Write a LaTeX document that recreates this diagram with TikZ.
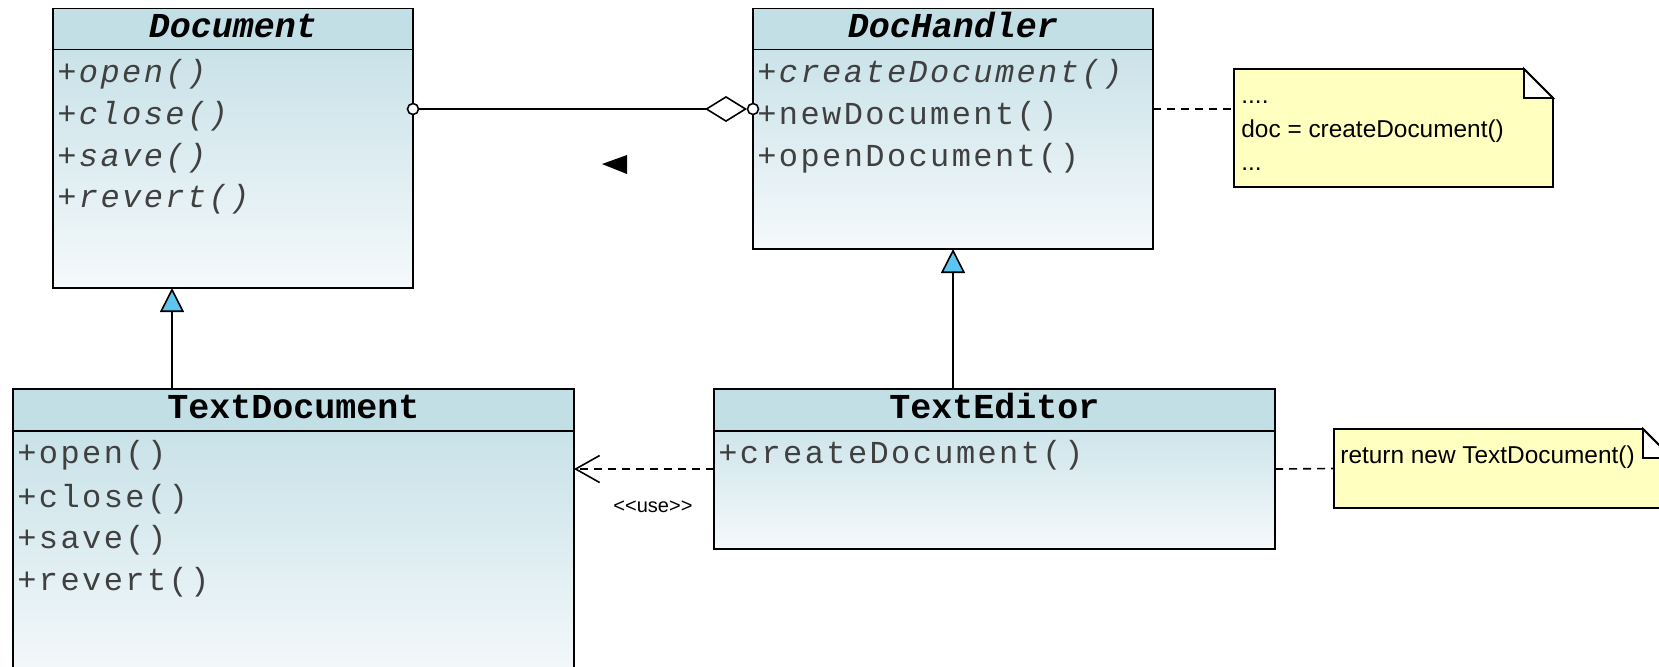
\documentclass[tikz,border=0pt]{standalone}
\usepackage{fontspec}
\usetikzlibrary{arrows.meta,calc}
\newfontfamily\umlfont{Liberation Mono}
\newfontfamily\opfont[LetterSpace=7.5]{Liberation Mono}
\newfontfamily\notefont{Liberation Sans}
\definecolor{headfill}{RGB}{195,223,230}
\definecolor{bodytop}{RGB}{193,222,229}
\definecolor{bodybot}{RGB}{245,249,251}
\definecolor{notefill}{RGB}{255,255,192}
\definecolor{genfill}{RGB}{94,196,240}
\begin{document}
\begin{tikzpicture}[x=0.5pt,y=-0.5pt,
  classbox/.style={draw=black, line width=0.9pt, anchor=north west,
    top color=bodytop, bottom color=bodybot, inner sep=0pt, outer sep=0pt},
  headbox/.style={draw=black, line width=0.9pt, anchor=north west,
    fill=headfill, inner sep=0pt, outer sep=0pt, minimum height=20.5pt},
  classname/.style={anchor=base, inner sep=0pt, text=black,
    font=\umlfont\fontsize{17.5pt}{20pt}\selectfont\bfseries},
  abstractname/.style={classname,
    font=\umlfont\fontsize{17.5pt}{20pt}\selectfont\bfseries\itshape},
  op/.style={anchor=base west, inner sep=0pt, text=black!75,
    font=\opfont\fontsize{16pt}{20pt}\selectfont},
  abstractop/.style={op, font=\opfont\fontsize{16pt}{20pt}\selectfont\itshape},
  notebox/.style={anchor=north west, inner sep=0pt, outer sep=0pt},
  notetext/.style={anchor=base west, inner sep=0pt, text=black,
    font=\notefont\fontsize{12.2pt}{14pt}\selectfont},
  noteshape/.style={draw=black, line width=0.9pt, fill=notefill, line join=miter},
  notelink/.style={draw=black, line width=0.8pt, dash pattern=on 4pt off 3pt},
  assoc/.style={draw=black, line width=0.8pt},
  endcircle/.style={circle, draw=black, fill=white, line width=0.8pt,
    inner sep=0pt, minimum size=5.5pt},
  gen/.style={draw=black, line width=0.8pt,
    -{Triangle[length=12pt, width=12pt, fill=genfill]}},
  dep/.style={draw=black, line width=0.8pt, dash pattern=on 4pt off 3pt,
    -{Straight Barb[length=12pt, width=13.5pt]}},
  stereo/.style={inner sep=0pt, text=black,
    font=\notefont\fontsize{10pt}{12pt}\selectfont}
]
\useasboundingbox (0,0) rectangle (1659,666);
\clip (0,0) rectangle (1659,666);

% ---- Document (abstract) ----
\node[classbox, minimum width=180pt, minimum height=139.75pt] (document) at (53,8.5) {};
\node[headbox, minimum width=180pt] (document-head) at (53,8.5) {};
\node[abstractname] at ($(document-head.north)+(0,28.5)$) {Document};
\node[abstractop] at ($(document-head.south west)+(4,33)$)  {+open()};
\node[abstractop] at ($(document-head.south west)+(4,75)$)  {+close()};
\node[abstractop] at ($(document-head.south west)+(4,117)$) {+save()};
\node[abstractop] at ($(document-head.south west)+(4,158)$) {+revert()};

% ---- DocHandler (abstract) ----
\node[classbox, minimum width=200pt, minimum height=120.25pt] (dochandler) at (753,8.5) {};
\node[headbox, minimum width=200pt] (dochandler-head) at (753,8.5) {};
\node[abstractname] at ($(dochandler-head.north)+(0,28.5)$) {DocHandler};
\node[abstractop] at ($(dochandler-head.south west)+(4,33)$) {+createDocument()};
\node[op] at ($(dochandler-head.south west)+(4,75)$)  {+newDocument()};
\node[op] at ($(dochandler-head.south west)+(4,117)$) {+openDocument()};

% ---- TextDocument ----
\node[classbox, minimum width=280.5pt, minimum height=145.5pt] (textdoc) at (13,389) {};
\node[headbox, minimum width=280.5pt, minimum height=21pt] (textdoc-head) at (13,389) {};
\node[classname] at ($(textdoc-head.north)+(0,29)$) {TextDocument};
\node[op] at ($(textdoc-head.south west)+(4,32)$)  {+open()};
\node[op] at ($(textdoc-head.south west)+(4,76)$)  {+close()};
\node[op] at ($(textdoc-head.south west)+(4,117)$) {+save()};
\node[op] at ($(textdoc-head.south west)+(4,159)$) {+revert()};

% ---- TextEditor ----
\node[classbox, minimum width=280.5pt, minimum height=80pt] (texteditor) at (714,389) {};
\node[headbox, minimum width=280.5pt, minimum height=21pt] (texteditor-head) at (714,389) {};
\node[classname] at ($(texteditor-head.north)+(0,29)$) {TextEditor};
\node[op] at ($(texteditor-head.south west)+(4,32)$) {+createDocument()};

% ---- notes ----
\node[notebox, minimum width=159.5pt, minimum height=59pt] (note1) at (1234,69) {};
\path[noteshape] (note1.north west) -- ($(note1.north east)+(-29,0)$)
  -- ($(note1.north east)+(0,29)$) -- (note1.south east) -- (note1.south west) -- cycle;
\draw[line width=0.9pt, fill=white, line join=miter] ($(note1.north east)+(-29,0)$)
  -- ($(note1.north east)+(-29,29)$) -- ($(note1.north east)+(0,29)$) -- cycle;
\node[notetext] at ($(note1.north west)+(7,34)$)  {....};
\node[notetext] at ($(note1.north west)+(7,68)$)  {doc = createDocument()};
\node[notetext] at ($(note1.north west)+(7,101)$) {...};

\node[notebox, minimum width=169pt, minimum height=39.5pt] (note2) at (1334,429) {};
\path[noteshape] (note2.north west) -- ($(note2.north east)+(-29,0)$)
  -- ($(note2.north east)+(0,29)$) -- (note2.south east) -- (note2.south west) -- cycle;
\draw[line width=0.9pt, fill=white, line join=miter] ($(note2.north east)+(-29,0)$)
  -- ($(note2.north east)+(-29,29)$) -- ($(note2.north east)+(0,29)$) -- cycle;
\node[notetext] at ($(note2.north west)+(6,34)$) {return new TextDocument()};

% ---- association Document -- DocHandler ----
\coordinate (as-l) at ($(document.north east)+(0,100.5)$);
\coordinate (as-r) at ($(dochandler.north west)+(0,100.5)$);
\draw[assoc, -{Diamond[length=21pt, width=13pt, fill=white]}, shorten >=3pt] (as-l) -- (as-r);
\node[endcircle] at (as-l) {};
\node[endcircle] at (as-r) {};
\fill[black] (602,164) -- (627,155) -- (627,174) -- cycle;

% ---- generalizations ----
\coordinate (gx-doc) at (172,0);
\draw[gen] (textdoc.north -| gx-doc) -- (document.south -| gx-doc);
\draw[gen] (texteditor.north -| dochandler.south) -- (dochandler.south);

% ---- dependency ----
\coordinate (dep-s) at ($(texteditor.north west)+(0,80)$);
\draw[dep] (dep-s) -- (dep-s -| textdoc.east)
  node[stereo, pos=0.436, anchor=base, yshift=-21.5pt] {{<}{<}use{>}{>}};

% ---- note links ----
\draw[notelink] (as-r -| dochandler.east) -- (as-r -| note1.west);
\draw[notelink] (texteditor.east) -- (note2.west);
\end{tikzpicture}
\end{document}
